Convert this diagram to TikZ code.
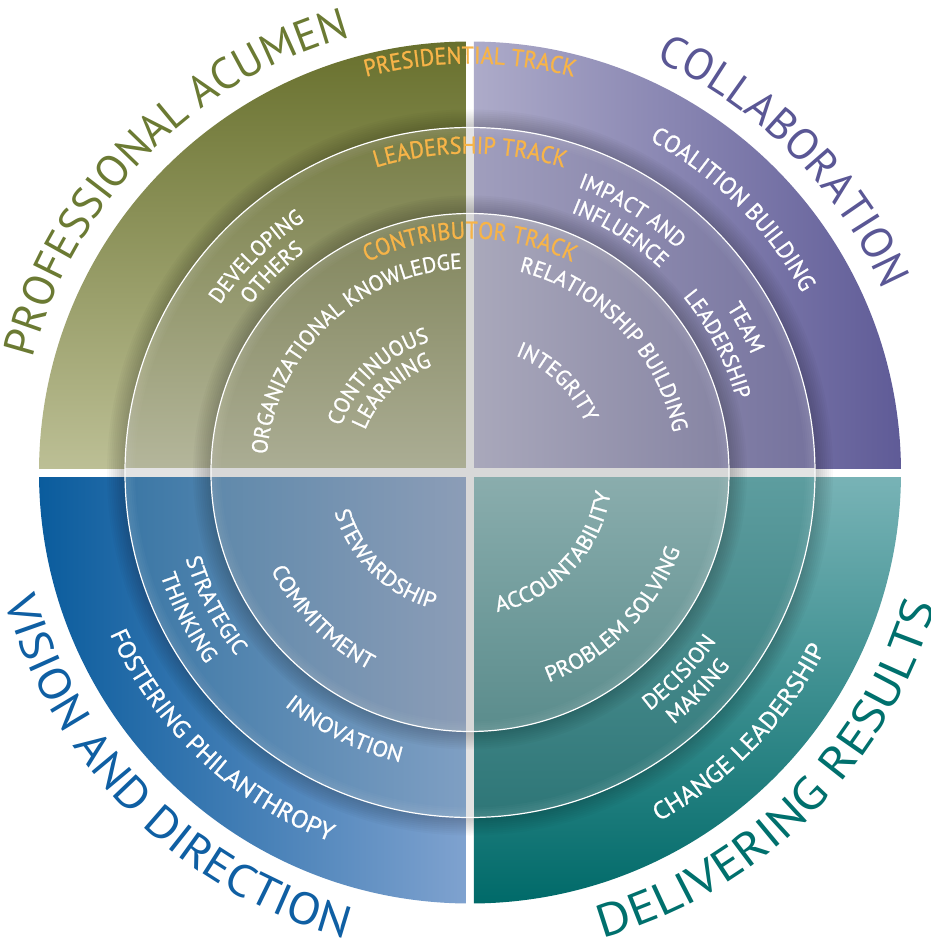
\documentclass[tikz,border=0pt]{standalone}
\usepackage{fontspec}
\usetikzlibrary{decorations.text}
\newfontfamily\bigfam{PT Sans}
\newfontfamily\bigwidefam[FakeStretch=1.08]{PT Sans}
\newfontfamily\bigwiderfam[FakeStretch=1.13]{PT Sans}
\newfontfamily\trackfam[FakeStretch=0.92,FakeBold=1]{PT Sans}
\newfontfamily\lblfam[FakeStretch=0.97,FakeBold=1]{PT Sans}
\newfontfamily\lblwidefam[FakeStretch=1.04,FakeBold=1]{PT Sans}
\newfontfamily\lblwiderfam[FakeStretch=1.06,FakeBold=1]{PT Sans}
% quadrant colours
\definecolor{tlOutT}{HTML}{68702D}\definecolor{tlOutB}{HTML}{BCBF95}
\definecolor{tlMidT}{HTML}{777D45}\definecolor{tlMidB}{HTML}{B4B69B}
\definecolor{tlInT}{HTML}{80845A}\definecolor{tlInB}{HTML}{ABAD94}
\definecolor{trOutL}{HTML}{ADABC9}\definecolor{trOutR}{HTML}{5F5B97}
\definecolor{trMidL}{HTML}{A09EBD}\definecolor{trMidR}{HTML}{75729D}
\definecolor{trInL}{HTML}{A9A8BB}\definecolor{trInR}{HTML}{8684A3}
\definecolor{blOutL}{HTML}{0A5C9D}\definecolor{blOutR}{HTML}{7FA2CF}
\definecolor{blMidL}{HTML}{3B77A5}\definecolor{blMidR}{HTML}{7F9FC3}
\definecolor{blInL}{HTML}{5F89AB}\definecolor{blInR}{HTML}{8C9DB7}
\definecolor{brOutT}{HTML}{78B3B6}\definecolor{brOutB}{HTML}{006A69}
\definecolor{brMidT}{HTML}{5D9D9F}\definecolor{brMidB}{HTML}{2E7677}
\definecolor{brInT}{HTML}{8AADAD}\definecolor{brInB}{HTML}{5A8C8C}
\definecolor{gapMid}{HTML}{E3E3E3}\definecolor{gapIn}{HTML}{D8D8D8}
% text colours
\definecolor{txtOlive}{HTML}{6B7A33}
\definecolor{txtPurple}{HTML}{5A5795}
\definecolor{txtBlue}{HTML}{0F5FA3}
\definecolor{txtTeal}{HTML}{00706D}
\definecolor{txtTrack}{HTML}{F7B448}
\newcommand\BigLbl{\bigfam\fontsize{44}{50}\selectfont}
\newcommand\BigLblW{\bigwidefam\fontsize{45}{50}\selectfont}
\newcommand\BigLblWW{\bigwiderfam\fontsize{46}{50}\selectfont}
\newcommand\TrkLbl{\trackfam\fontsize{24}{28}\selectfont\color{txtTrack}}
\newcommand\WhtLbl{\lblfam\fontsize{22}{26}\selectfont\color{white}}
\newcommand\WhtLblB{\lblwidefam\fontsize{22}{26}\selectfont\color{white}}
\newcommand\WhtLblO{\lblfam\fontsize{24}{28}\selectfont\color{white}}
\newcommand\WhtLblOB{\lblwiderfam\fontsize{24.5}{28}\selectfont\color{white}}
\newcommand\WhtLblOC{\lblwidefam\fontsize{24.5}{28}\selectfont\color{white}}
% text along a clockwise arc (upper half style): angle, baseline radius, format, text
\newcommand\toparc[4]{\path[decorate,decoration={text along path,text align=center,text={|#3|#4}}]
  ({#1+89}:#2) arc[start angle={#1+89},end angle={#1-89},radius=#2];}
% text along a counter-clockwise arc (lower half style)
\newcommand\botarc[4]{\path[decorate,decoration={text along path,text align=center,text={|#3|#4}}]
  ({#1-89}:#2) arc[start angle={#1-89},end angle={#1+89},radius=#2];}
\begin{document}
\begin{tikzpicture}[x=1pt,y=1pt,
  ringline/.style={white,line width=1.2},
  shadowline/.style={black,opacity=0.022},
  glowline/.style={white,opacity=0.025}]
\useasboundingbox (-470,-467.5) rectangle (461,472.5);
\fill[white] (-470,-467.5) rectangle (461,472.5);
% ---------- outer ring quadrants
\begin{scope}\clip (0,0) circle (431);
 \shade[top color=tlOutT,bottom color=tlOutB] (-431,4.5) rectangle (-4,431);
 \shade[left color=trOutL,right color=trOutR] (4,4.5) rectangle (431,431);
 \shade[left color=blOutL,right color=blOutR] (-431,-431) rectangle (-4,-4.5);
 \shade[top color=brOutT,bottom color=brOutB] (4,-431) rectangle (431,-4.5);
\end{scope}
% ---------- middle ring quadrants
\begin{scope}\clip (0,0) circle (345);
 \shade[top color=tlMidT,bottom color=tlMidB] (-345,4.5) rectangle (-4,345);
 \shade[left color=trMidL,right color=trMidR] (4,4.5) rectangle (345,345);
 \shade[left color=blMidL,right color=blMidR] (-345,-345) rectangle (-4,-4.5);
 \shade[top color=brMidT,bottom color=brMidB] (4,-345) rectangle (345,-4.5);
 \fill[gapMid] (-4,-345) rectangle (4,345);
 \fill[gapMid] (-345,-4.5) rectangle (345,4.5);
\end{scope}
\begin{scope}\clip (0,0) circle (431);
 \foreach \k in {2,4,...,18} \draw[shadowline,line width=\k] (0,0) circle ({345+\k/2});
\end{scope}
% ---------- inner disc quadrants
\begin{scope}\clip (0,0) circle (259);
 \shade[top color=tlInT,bottom color=tlInB] (-259,4.5) rectangle (-4,259);
 \shade[left color=trInL,right color=trInR] (4,4.5) rectangle (259,259);
 \shade[left color=blInL,right color=blInR] (-259,-259) rectangle (-4,-4.5);
 \shade[top color=brInT,bottom color=brInB] (4,-259) rectangle (259,-4.5);
 \fill[gapIn] (-4,-259) rectangle (4,259);
 \fill[gapIn] (-259,-4.5) rectangle (259,4.5);
\end{scope}
\begin{scope}\clip (0,0) circle (345);
 \foreach \k in {2,4,...,18} \draw[shadowline,line width=\k] (0,0) circle ({259+\k/2});
 \foreach \k in {2,4,...,10} \draw[glowline,line width=\k] (0,0) circle ({345-\k/2});
\end{scope}
\begin{scope}\clip (0,0) circle (259);
 \foreach \k in {2,4,...,10} \draw[glowline,line width=\k] (0,0) circle ({259-\k/2});
\end{scope}
\draw[ringline] (0,0) circle (345);
\draw[ringline] (0,0) circle (259);
% ---------- outer titles
\toparc{135.4}{452}{\BigLbl\color{txtOlive}}{PROFESSIONAL ACUMEN}
\toparc{44.8}{452}{\BigLbl\color{txtPurple}}{COLLABORATION}
\botarc{225.2}{482}{\BigLblW\color{txtBlue}}{VISION AND DIRECTION}
\botarc{315}{484}{\BigLblWW\color{txtTeal}}{DELIVERING RESULTS}
% ---------- track labels
\toparc{90}{409}{\TrkLbl}{PRESIDENTIAL TRACK}
\toparc{90}{319}{\TrkLbl}{LEADERSHIP TRACK}
\toparc{90}{234}{\TrkLbl}{CONTRIBUTOR TRACK}
% ---------- top left competencies
\toparc{134.7}{301}{\WhtLbl}{DEVELOPING}
\toparc{134.7}{276}{\WhtLbl}{OTHERS}
\toparc{133.6}{204}{\WhtLbl}{ORGANIZATIONAL KNOWLEDGE}
\toparc{133.7}{137}{\WhtLbl}{CONTINUOUS}
\toparc{133.8}{113}{\WhtLbl}{LEARNING}
% ---------- top right competencies
\toparc{45}{377.5}{\WhtLblO}{COALITION BUILDING}
\toparc{58.2}{305}{\WhtLbl}{IMPACT AND}
\toparc{57.9}{279}{\WhtLbl}{INFLUENCE}
\toparc{27.7}{305}{\WhtLbl}{TEAM}
\toparc{27.4}{276}{\WhtLbl}{LEADERSHIP}
\toparc{43.7}{207}{\WhtLbl}{RELATIONSHIP BUILDING}
\toparc{46}{125.5}{\WhtLbl}{INTEGRITY}
% ---------- bottom left competencies
\botarc{225.6}{141}{\WhtLblB}{STEWARDSHIP}
\botarc{224.5}{221.5}{\WhtLblB}{COMMITMENT}
\botarc{207.5}{297}{\WhtLblB}{STRATEGIC}
\botarc{207.2}{326}{\WhtLblB}{THINKING}
\botarc{244}{298}{\WhtLblB}{INNOVATION}
\botarc{226.7}{394.5}{\WhtLblOC}{FOSTERING PHILANTHROPY}
% ---------- bottom right competencies
\botarc{316.4}{142}{\WhtLblB}{ACCOUNTABILITY}
\botarc{315.2}{224}{\WhtLblB}{PROBLEM SOLVING}
\botarc{316.3}{298.5}{\WhtLblB}{DECISION}
\botarc{316.2}{324}{\WhtLblB}{MAKING}
\botarc{316}{396.5}{\WhtLblOB}{CHANGE LEADERSHIP}
\end{tikzpicture}
\end{document}
